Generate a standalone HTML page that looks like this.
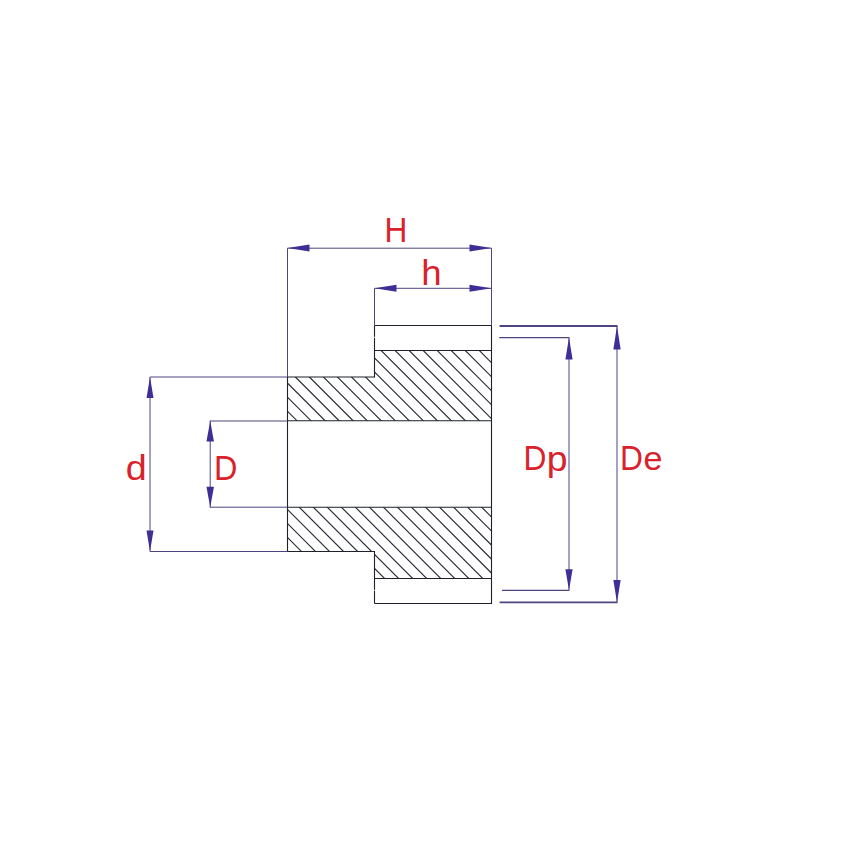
<!DOCTYPE html>
<html><head><meta charset="utf-8"><style>
html,body{margin:0;padding:0;background:#fff;}
svg{display:block;font-family:"Liberation Sans",sans-serif;}
</style></head><body>
<svg width="860" height="860" viewBox="0 0 860 860">
<rect width="860" height="860" fill="#fff"/>
<defs><clipPath id="hc"><polygon points="374.5,350.5 491.5,350.5 491.5,420.8 287.5,420.8 287.5,377.0 374.5,377.0"/><polygon points="287.5,507.3 491.5,507.3 491.5,578.5 374.5,578.5 374.5,551.5 287.5,551.5"/></clipPath></defs>
<g clip-path="url(#hc)" stroke="#262932" stroke-width="1.15"><line x1="-258.66" y1="300" x2="91.34" y2="650"/><line x1="-244.63" y1="300" x2="105.37" y2="650"/><line x1="-230.60" y1="300" x2="119.40" y2="650"/><line x1="-216.57" y1="300" x2="133.43" y2="650"/><line x1="-202.54" y1="300" x2="147.46" y2="650"/><line x1="-188.51" y1="300" x2="161.49" y2="650"/><line x1="-174.48" y1="300" x2="175.52" y2="650"/><line x1="-160.45" y1="300" x2="189.55" y2="650"/><line x1="-146.42" y1="300" x2="203.58" y2="650"/><line x1="-132.39" y1="300" x2="217.61" y2="650"/><line x1="-118.36" y1="300" x2="231.64" y2="650"/><line x1="-104.33" y1="300" x2="245.67" y2="650"/><line x1="-90.30" y1="300" x2="259.70" y2="650"/><line x1="-76.27" y1="300" x2="273.73" y2="650"/><line x1="-62.24" y1="300" x2="287.76" y2="650"/><line x1="-48.21" y1="300" x2="301.79" y2="650"/><line x1="-34.18" y1="300" x2="315.82" y2="650"/><line x1="-20.15" y1="300" x2="329.85" y2="650"/><line x1="-6.12" y1="300" x2="343.88" y2="650"/><line x1="7.91" y1="300" x2="357.91" y2="650"/><line x1="21.94" y1="300" x2="371.94" y2="650"/><line x1="35.97" y1="300" x2="385.97" y2="650"/><line x1="50.00" y1="300" x2="400.00" y2="650"/><line x1="64.03" y1="300" x2="414.03" y2="650"/><line x1="78.06" y1="300" x2="428.06" y2="650"/><line x1="92.09" y1="300" x2="442.09" y2="650"/><line x1="106.12" y1="300" x2="456.12" y2="650"/><line x1="120.15" y1="300" x2="470.15" y2="650"/><line x1="134.18" y1="300" x2="484.18" y2="650"/><line x1="148.21" y1="300" x2="498.21" y2="650"/><line x1="162.24" y1="300" x2="512.24" y2="650"/><line x1="176.27" y1="300" x2="526.27" y2="650"/><line x1="190.30" y1="300" x2="540.30" y2="650"/><line x1="204.33" y1="300" x2="554.33" y2="650"/><line x1="218.36" y1="300" x2="568.36" y2="650"/><line x1="232.39" y1="300" x2="582.39" y2="650"/><line x1="246.42" y1="300" x2="596.42" y2="650"/><line x1="260.45" y1="300" x2="610.45" y2="650"/><line x1="274.48" y1="300" x2="624.48" y2="650"/><line x1="288.51" y1="300" x2="638.51" y2="650"/><line x1="302.54" y1="300" x2="652.54" y2="650"/><line x1="316.57" y1="300" x2="666.57" y2="650"/><line x1="330.60" y1="300" x2="680.60" y2="650"/><line x1="344.63" y1="300" x2="694.63" y2="650"/><line x1="358.66" y1="300" x2="708.66" y2="650"/><line x1="372.69" y1="300" x2="722.69" y2="650"/><line x1="386.72" y1="300" x2="736.72" y2="650"/><line x1="400.75" y1="300" x2="750.75" y2="650"/><line x1="414.78" y1="300" x2="764.78" y2="650"/><line x1="428.81" y1="300" x2="778.81" y2="650"/></g>
<line x1="374.5" y1="325.5" x2="491.5" y2="325.5" stroke="#1e212b" stroke-width="1.1"/>
<line x1="374.5" y1="350.5" x2="491.5" y2="350.5" stroke="#1e212b" stroke-width="1.1"/>
<line x1="374.5" y1="377.0" x2="287.5" y2="377.0" stroke="#1e212b" stroke-width="1.1"/>
<line x1="287.5" y1="420.8" x2="491.5" y2="420.8" stroke="#1e212b" stroke-width="1.1"/>
<line x1="287.5" y1="507.3" x2="491.5" y2="507.3" stroke="#1e212b" stroke-width="1.1"/>
<line x1="287.5" y1="551.5" x2="374.5" y2="551.5" stroke="#1e212b" stroke-width="1.1"/>
<line x1="374.5" y1="578.5" x2="491.5" y2="578.5" stroke="#1e212b" stroke-width="1.1"/>
<line x1="374.5" y1="603.5" x2="491.5" y2="603.5" stroke="#1e212b" stroke-width="1.1"/>
<line x1="374.5" y1="325.5" x2="374.5" y2="377.55" stroke="#1e212b" stroke-width="1.1"/>
<line x1="374.5" y1="550.95" x2="374.5" y2="603.5" stroke="#1e212b" stroke-width="1.1"/>
<line x1="287.5" y1="376.45" x2="287.5" y2="552.05" stroke="#1e212b" stroke-width="1.1"/>
<line x1="491.5" y1="324.95" x2="491.5" y2="604.05" stroke="#1e212b" stroke-width="1.1"/>
<rect x="373.5" y="336.8" width="2" height="0.9" fill="#fff"/>
<rect x="373.5" y="589.8" width="2" height="0.9" fill="#fff"/>
<line x1="287.5" y1="248.2" x2="491.5" y2="248.2" stroke="#4b4680" stroke-width="1.0"/>
<line x1="287.5" y1="248.2" x2="287.5" y2="377.0" stroke="#4b4680" stroke-width="1.0"/>
<line x1="491.5" y1="248.2" x2="491.5" y2="325.5" stroke="#4b4680" stroke-width="1.0"/>
<polygon points="287.50,247.95 309.50,244.45 309.50,251.45" fill="#3d2f95"/>
<polygon points="491.50,247.95 469.50,251.45 469.50,244.45" fill="#3d2f95"/>
<line x1="374.5" y1="288.3" x2="491.5" y2="288.3" stroke="#4b4680" stroke-width="1.0"/>
<line x1="374.5" y1="288.3" x2="374.5" y2="325.5" stroke="#4b4680" stroke-width="1.0"/>
<polygon points="374.50,288.30 396.50,284.80 396.50,291.80" fill="#3d2f95"/>
<polygon points="491.50,288.30 469.50,291.80 469.50,284.80" fill="#3d2f95"/>
<line x1="150.0" y1="377.0" x2="150.0" y2="551.5" stroke="#4b4680" stroke-width="1.0"/>
<line x1="150.0" y1="377.0" x2="287.5" y2="377.0" stroke="#4b4680" stroke-width="1.0"/>
<line x1="150.0" y1="551.5" x2="287.5" y2="551.5" stroke="#4b4680" stroke-width="1.0"/>
<polygon points="150.00,377.00 153.50,398.00 146.50,398.00" fill="#3d2f95"/>
<polygon points="150.00,551.50 146.50,530.50 153.50,530.50" fill="#3d2f95"/>
<line x1="210.2" y1="421.0" x2="210.2" y2="507.2" stroke="#4b4680" stroke-width="1.0"/>
<line x1="209.7" y1="421.0" x2="287.5" y2="421.0" stroke="#4b4680" stroke-width="1.0"/>
<line x1="209.7" y1="507.2" x2="287.5" y2="507.2" stroke="#4b4680" stroke-width="1.0"/>
<polygon points="210.20,421.00 213.95,441.50 206.45,441.50" fill="#3d2f95"/>
<polygon points="210.20,507.20 206.45,486.70 213.95,486.70" fill="#3d2f95"/>
<line x1="569.0" y1="337.6" x2="569.0" y2="590.3" stroke="#4b4680" stroke-width="1.0"/>
<line x1="499.2" y1="337.6" x2="569.3" y2="337.6" stroke="#4b4680" stroke-width="1.2"/>
<line x1="502.0" y1="590.3" x2="569.3" y2="590.3" stroke="#4b4680" stroke-width="1.2"/>
<polygon points="569.00,337.60 572.60,359.60 565.40,359.60" fill="#3d2f95"/>
<polygon points="569.00,590.30 565.40,569.30 572.60,569.30" fill="#3d2f95"/>
<line x1="617.0" y1="326.0" x2="617.0" y2="602.4" stroke="#4b4680" stroke-width="1.0"/>
<line x1="499.6" y1="326.0" x2="617.5" y2="326.0" stroke="#4b4680" stroke-width="1.9"/>
<line x1="499.6" y1="602.4" x2="617.5" y2="602.4" stroke="#4b4680" stroke-width="1.9"/>
<polygon points="617.00,326.00 620.65,349.50 613.35,349.50" fill="#3d2f95"/>
<polygon points="617.00,602.40 613.35,579.90 620.65,579.90" fill="#3d2f95"/>
<text transform="translate(384.47,241.80) scale(0.9087,1)" x="0" y="0" font-size="34.78" fill="#d9222c">H</text>
<text transform="translate(421.33,284.70) scale(1.0304,1)" x="0" y="0" font-size="35.59" fill="#d9222c">h</text>
<text transform="translate(125.69,479.75) scale(1.0721,1)" x="0" y="0" font-size="35.24" fill="#d9222c">d</text>
<text transform="translate(214.01,479.80) scale(0.9404,1)" x="0" y="0" font-size="34.49" fill="#d9222c">D</text>
<text transform="translate(523.56,470.20) scale(0.9209,1)" x="0" y="0" font-size="34.49" fill="#d9222c">D</text>
<text transform="translate(546.67,471.23) scale(1.0496,1)" x="0" y="0" font-size="35.57" fill="#d9222c">p</text>
<text transform="translate(620.06,470.20) scale(0.9209,1)" x="0" y="0" font-size="34.49" fill="#d9222c">D</text>
<text transform="translate(643.46,470.16) scale(1.0111,1)" x="0" y="0" font-size="33.82" fill="#d9222c">e</text>
</svg>
</body></html>
